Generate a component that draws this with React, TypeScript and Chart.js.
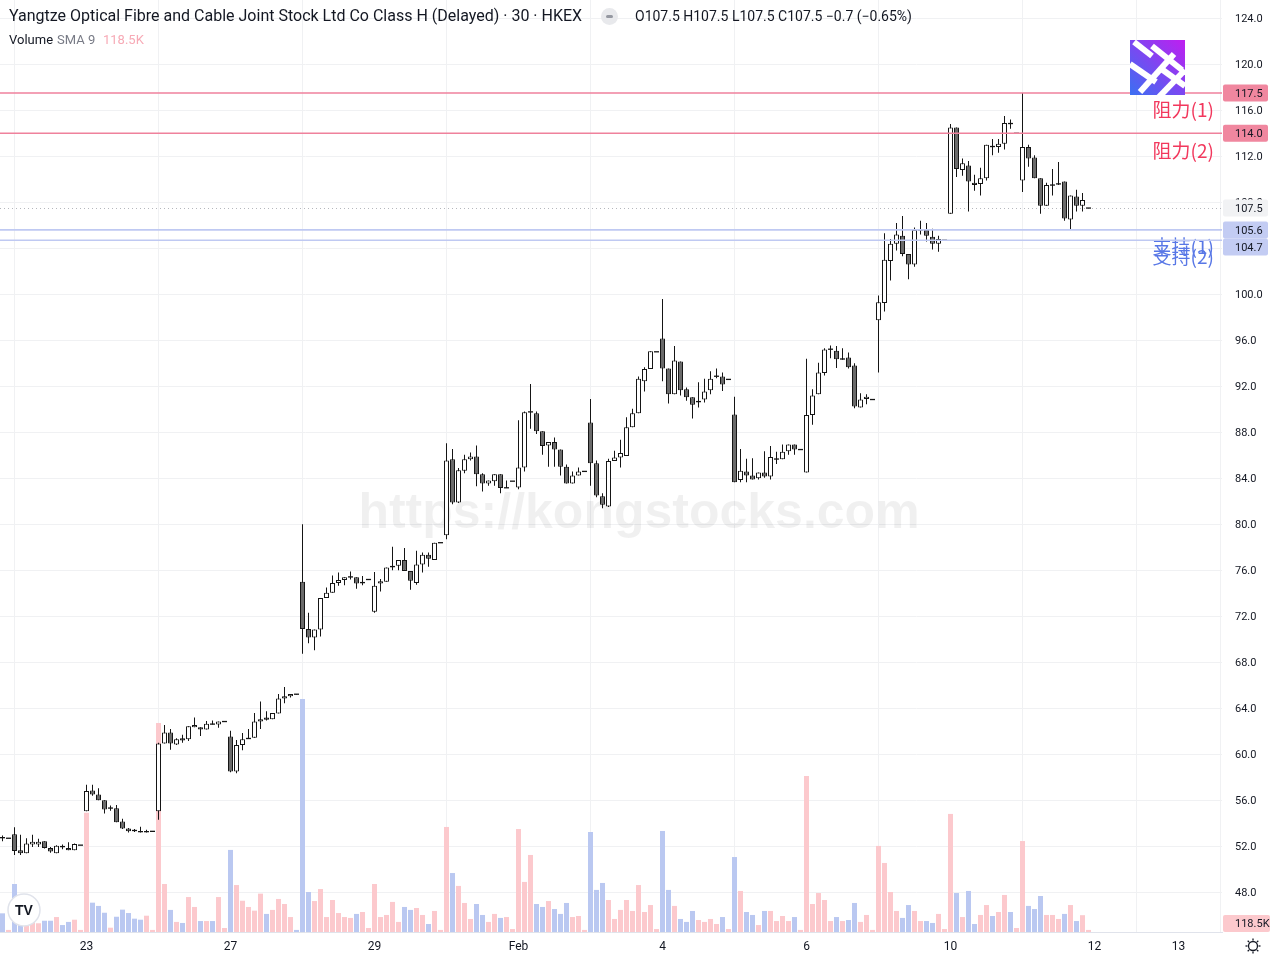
import React, { useEffect, useRef } from 'react';
import { Chart, registerables } from 'chart.js';

Chart.register(...registerables);

// ---------------- data ----------------
const TITLE = 'Yangtze Optical Fibre and Cable Joint Stock Ltd Co Class H (Delayed) · 30 · HKEX';
const WATERMARK = 'https://kongstocks.com';
const FIRST_BAR = -14; // bar index of first element (bar 0 = first bar of Jan 23)

const opens = [
  52.80, 52.70, 53.05, 51.65, 51.40, 52.15, 52.15, 52.45, 51.85, 51.40, 52.00, 51.85, 51.65, 52.10,
  55.05, 56.85, 56.50, 56.00, 55.25, 55.30, 54.15, 53.55, 53.40, 53.30, 53.25, 53.30,
  55.05, 60.95, 61.90, 60.85, 61.40, 61.30, 62.35, 62.35, 62.15, 62.65, 62.60, 62.85,
  61.55, 58.50, 60.80, 61.35, 61.45, 62.85, 63.20, 63.05, 63.55, 64.85, 65.05, 65.25,
  75.00, 70.90, 70.15, 70.85, 73.60, 74.05, 74.90, 75.15, 75.40, 75.40, 74.85, 75.20,
  72.40, 74.85, 75.00, 76.25, 76.40, 76.90, 75.95, 74.90, 76.50, 77.35, 76.90, 78.40,
  79.05, 85.65, 81.90, 84.65, 85.65, 85.90, 84.35, 83.55, 83.75, 84.35, 83.15, 83.75,
  83.20, 84.95, 89.75, 89.65, 88.10, 86.85, 87.15, 86.50, 85.00, 83.55, 84.25, 84.60,
  88.85, 85.30, 82.45, 81.55, 85.50, 85.80, 85.95, 88.45, 89.65, 92.45, 93.50, 95.00,
  96.15, 93.55, 91.30, 94.15, 91.75, 91.05, 90.60, 90.85, 91.65, 92.85, 92.85, 92.60,
  89.55, 83.85, 84.60, 84.25, 84.00, 84.50, 84.15, 85.65, 85.65, 86.35, 86.95, 86.50,
  84.50, 89.50, 91.30, 93.15, 95.20, 95.10, 94.35, 94.50, 93.80, 90.15, 90.90, 90.85,
  97.75, 99.25, 102.9, 104.4, 105.1, 103.5, 102.6, 105.6, 105.6, 105.0, 104.4, 104.7,
  107.0, 114.5, 110.8, 111.2, 109.7, 109.6, 110.1, 112.9, 112.8, 113.1, 114.9, 114.0,
  109.9, 112.8, 111.9, 110.1, 107.7, 109.5, 109.6, 109.8, 106.5, 108.5, 107.7, 107.5,
];
const highs = [
  52.95, 52.70, 53.65, 53.00, 52.70, 53.00, 52.65, 52.45, 51.95, 52.10, 52.15, 52.35, 52.25, 52.10,
  57.35, 57.35, 57.05, 56.00, 55.55, 55.60, 54.40, 53.60, 53.50, 53.70, 53.45, 53.30,
  61.00, 62.55, 62.20, 61.40, 61.70, 62.45, 63.20, 62.35, 62.90, 62.95, 62.85, 62.85,
  62.05, 61.25, 61.85, 62.20, 63.60, 64.60, 63.75, 63.60, 65.25, 65.85, 65.25, 65.25,
  80.00, 72.30, 70.85, 73.60, 74.50, 75.55, 75.80, 75.40, 75.90, 75.40, 75.50, 75.20,
  75.85, 75.25, 76.25, 78.05, 76.90, 77.95, 75.95, 77.70, 77.55, 77.55, 78.40, 78.40,
  87.05, 86.55, 84.90, 86.05, 86.25, 86.85, 84.45, 83.80, 84.35, 84.35, 83.80, 83.75,
  89.05, 89.80, 92.20, 89.80, 88.10, 87.15, 87.55, 86.50, 85.20, 84.60, 84.95, 84.60,
  90.90, 85.55, 82.70, 85.70, 86.40, 87.35, 89.30, 90.05, 92.85, 93.65, 95.05, 95.00,
  99.60, 93.55, 95.50, 94.15, 91.90, 91.05, 92.35, 92.65, 93.30, 93.55, 93.20, 92.60,
  91.10, 86.55, 85.70, 85.75, 84.50, 86.35, 86.80, 86.30, 86.95, 86.95, 86.95, 86.50,
  94.40, 91.75, 94.05, 95.30, 95.55, 95.50, 95.30, 94.95, 94.00, 91.40, 91.30, 90.85,
  99.90, 105.3, 104.8, 106.2, 106.8, 103.5, 105.8, 106.4, 106.2, 105.7, 105.1, 104.7,
  114.8, 114.5, 111.8, 111.6, 110.4, 111.0, 113.0, 113.5, 113.5, 115.5, 115.2, 114.0,
  117.5, 113.0, 112.1, 110.1, 109.7, 110.9, 111.5, 109.8, 108.6, 109.1, 108.8, 107.5,
];
const lows = [
  52.45, 52.70, 51.25, 51.25, 51.40, 51.95, 51.95, 51.80, 51.45, 51.40, 51.75, 51.65, 51.65, 52.10,
  55.05, 56.40, 56.00, 54.85, 55.10, 54.10, 53.50, 53.20, 53.25, 53.20, 53.20, 53.30,
  54.30, 60.95, 60.40, 60.80, 61.00, 61.15, 62.35, 61.60, 62.15, 62.60, 62.30, 62.85,
  58.45, 58.35, 60.35, 61.35, 61.45, 62.20, 62.95, 63.05, 63.55, 64.45, 64.95, 65.20,
  68.75, 69.65, 69.05, 70.25, 73.60, 74.05, 74.65, 74.70, 75.20, 74.40, 74.70, 75.20,
  72.30, 74.15, 75.00, 76.00, 76.00, 75.95, 74.30, 74.75, 75.80, 76.30, 76.90, 78.40,
  78.70, 81.75, 81.85, 84.45, 85.55, 83.30, 82.85, 83.35, 83.35, 82.70, 83.15, 83.75,
  83.05, 84.60, 88.30, 87.85, 86.05, 85.00, 85.00, 84.25, 83.55, 83.55, 84.25, 84.60,
  83.35, 82.35, 81.40, 81.50, 85.50, 84.95, 85.95, 88.45, 89.65, 91.55, 93.50, 95.00,
  92.45, 90.50, 91.30, 91.20, 90.75, 89.20, 90.15, 90.60, 91.30, 92.70, 91.60, 92.60,
  83.65, 83.65, 83.65, 83.90, 83.90, 84.05, 83.90, 85.25, 85.65, 86.05, 86.05, 86.50,
  84.50, 88.65, 91.30, 92.95, 94.45, 93.60, 94.30, 93.55, 90.10, 90.15, 90.45, 90.85,
  93.20, 98.50, 101.2, 103.8, 103.3, 101.3, 102.4, 105.2, 104.6, 103.9, 103.7, 104.7,
  107.0, 110.2, 110.3, 107.2, 109.0, 108.6, 109.9, 112.1, 112.3, 112.6, 114.4, 114.0,
  108.9, 111.1, 110.1, 107.0, 107.7, 108.6, 109.5, 106.4, 105.6, 107.2, 107.2, 107.5,
];
const closes = [
  52.70, 52.70, 51.60, 51.40, 52.25, 52.40, 52.40, 51.85, 51.55, 52.05, 51.95, 51.65, 52.20, 52.10,
  56.80, 56.50, 56.00, 55.20, 55.40, 54.10, 53.55, 53.30, 53.35, 53.25, 53.30, 53.30,
  60.95, 61.90, 60.95, 61.30, 61.20, 62.45, 62.55, 62.15, 62.65, 62.60, 62.85, 62.85,
  58.50, 60.80, 61.30, 61.40, 62.85, 63.05, 63.00, 63.60, 64.85, 65.05, 65.25, 65.20,
  70.90, 70.15, 70.85, 73.60, 74.05, 74.90, 75.15, 75.40, 75.45, 74.85, 75.00, 75.20,
  74.65, 75.05, 76.25, 76.40, 76.90, 75.95, 75.10, 76.50, 77.35, 77.00, 78.40, 78.40,
  85.55, 81.90, 84.70, 85.65, 85.90, 84.35, 83.55, 83.80, 84.35, 83.15, 83.20, 83.75,
  84.95, 89.75, 89.80, 88.10, 86.80, 87.15, 86.50, 85.00, 83.55, 84.25, 84.60, 84.60,
  85.30, 82.50, 81.70, 85.50, 85.80, 86.20, 88.45, 89.65, 92.65, 93.50, 95.05, 95.00,
  93.55, 91.30, 94.25, 91.65, 91.05, 90.40, 90.75, 91.55, 92.65, 92.90, 92.15, 92.60,
  83.65, 84.65, 84.25, 83.90, 84.50, 84.15, 85.85, 85.70, 86.30, 86.95, 86.50, 86.50,
  89.50, 91.20, 93.20, 95.20, 95.25, 94.35, 94.40, 93.65, 90.25, 90.85, 91.10, 90.85,
  99.30, 103.0, 104.4, 105.2, 103.5, 102.6, 105.6, 105.6, 105.1, 104.4, 104.8, 104.7,
  114.5, 110.9, 111.4, 109.8, 109.5, 110.1, 113.0, 112.8, 113.1, 114.9, 114.8, 114.0,
  112.8, 111.8, 110.1, 107.7, 109.5, 109.5, 109.6, 106.6, 108.6, 107.7, 108.2, 107.5,
];
// volume in thousands of shares
const volumes = [
  126, 14, 324, 68, 41, 68, 59, 76, 76, 101, 47, 68, 83, 14,
  805, 198, 176, 130, 29, 103, 151, 128, 90, 83, 110, 14,
  1411, 324, 149, 68, 61, 236, 169, 74, 74, 74, 236, 27,
  554, 317, 211, 169, 144, 259, 122, 149, 223, 189, 101, 14,
  1573, 270, 209, 290, 101, 216, 128, 101, 95, 122, 135, 27,
  324, 101, 115, 203, 68, 169, 149, 162, 115, 54, 142, 14,
  709, 398, 311, 196, 88, 189, 115, 68, 122, 95, 101, 20,
  695, 338, 520, 189, 169, 209, 155, 122, 196, 101, 108, 14,
  675, 284, 331, 216, 88, 149, 216, 142, 317, 135, 182, 20,
  682, 284, 176, 88, 68, 142, 81, 68, 88, 54, 101, 20,
  506, 277, 135, 115, 47, 142, 142, 74, 108, 74, 101, 14,
  1053, 189, 263, 216, 74, 101, 74, 81, 196, 68, 115, 14,
  581, 466, 270, 142, 95, 182, 142, 74, 74, 61, 122, 20,
  797, 263, 101, 277, 54, 115, 182, 108, 135, 250, 135, 27,
  614, 176, 155, 243, 115, 115, 88, 122, 182, 74, 113.5, 14,
];

const dayTickBars = [0, 24, 48, 72, 96, 120, 144, 168, 182];
const dayTickLabels = ['23', '27', '29', 'Feb', '4', '6', '10', '12', '13'];
const priceTicks = [48, 52, 56, 60, 64, 68, 72, 76, 80, 84, 88, 92, 96, 100, 104, 108, 112, 116, 120, 124];

const levelPrices = [117.5, 114.0, 105.6, 104.7];
const levelTexts = ['阻力(1)', '阻力(2)', '支持(1)', '支持(2)'];
const levelKinds = ['res', 'res', 'sup', 'sup'];
const VOL_SMA_LEN = 9;

// ---------------- layout / style ----------------
const PLOT_RIGHT = 1222;
const PLOT_BOTTOM = 932;
const BAR_PX = 6;
const FIRST_DAY_X = 86.5;
const X_MIN = -FIRST_DAY_X / BAR_PX;
const X_MAX = X_MIN + PLOT_RIGHT / BAR_PX;
const PX_PER_PRICE = 11.5;
const Y_MAX = 124 + 18.3 / PX_PER_PRICE;
const Y_MIN = 124 - (PLOT_BOTTOM - 18.3) / PX_PER_PRICE;
const VOL_PER_PX = 6.75;
const VOL_MAX = PLOT_BOTTOM * VOL_PER_PX;
const DOJI = 0.15;

const TEXT = '#131722';
const GRID = '#f0f1f3';
const CANDLE_LINE = '#151515';
const UP_BODY = '#ffffff';
const DOWN_BODY = '#6a6a6a';
const VOL_UP = '#fcc9cd';
const VOL_DOWN = '#bac8f1';
const RES_LINE = '#ef819c';
const RES_TEXT = '#f2385d';
const SUP_LINE = '#bfc9f2';
const SUP_TEXT = '#5877e6';
const FONT = 'Roboto, "Noto Sans", sans-serif';

const n = closes.length;
const lastClose = closes[n - 1];
const prevClose = closes[n - 2];
const change = lastClose - prevClose;
const changePct = (change / prevClose) * 100;
const volSMA = volumes.slice(n - VOL_SMA_LEN).reduce((a, b) => a + b, 0) / VOL_SMA_LEN;
const minus = (v: number, d: number) => (v < 0 ? '\u2212' : '') + Math.abs(v).toFixed(d);

function roundRect(ctx: CanvasRenderingContext2D, x: number, y: number, w: number, h: number, r: number) {
  ctx.beginPath();
  ctx.moveTo(x + r, y);
  ctx.lineTo(x + w - r, y);
  ctx.quadraticCurveTo(x + w, y, x + w, y + r);
  ctx.lineTo(x + w, y + h - r);
  ctx.quadraticCurveTo(x + w, y + h, x + w - r, y + h);
  ctx.lineTo(x + r, y + h);
  ctx.quadraticCurveTo(x, y + h, x, y + h - r);
  ctx.lineTo(x, y + r);
  ctx.quadraticCurveTo(x, y, x + r, y);
  ctx.closePath();
}

const overlayPlugin = {
  id: 'tvOverlay',
  beforeDatasetsDraw(chart: any) {
    const { ctx, chartArea: a, scales } = chart;
    ctx.save();
    ctx.font = 'bold 50px "Liberation Sans", Arial, sans-serif';
    ctx.fillStyle = 'rgba(0,0,0,0.06)';
    ctx.textAlign = 'center';
    ctx.textBaseline = 'middle';
    ctx.fillText(WATERMARK, 639, 514);
    // last price dotted line
    const yl = Math.round(scales.y.getPixelForValue(lastClose)) + 0.5;
    ctx.setLineDash([1, 3]);
    ctx.strokeStyle = 'rgba(120,123,134,0.55)';
    ctx.lineWidth = 1;
    ctx.beginPath();
    ctx.moveTo(a.left, yl);
    ctx.lineTo(a.right, yl);
    ctx.stroke();
    ctx.restore();
  },
  afterDatasetsDraw(chart: any) {
    const { ctx, chartArea: a, scales } = chart;
    ctx.save();
    levelPrices.forEach((p, k) => {
      const y = scales.y.getPixelForValue(p);
      const res = levelKinds[k] === 'res';
      ctx.strokeStyle = res ? RES_LINE : SUP_LINE;
      ctx.lineWidth = 1.6;
      ctx.beginPath();
      ctx.moveTo(a.left, y);
      ctx.lineTo(a.right, y);
      ctx.stroke();
      ctx.font = '19px "Noto Sans CJK TC", "Noto Sans CJK SC", sans-serif';
      ctx.fillStyle = res ? RES_TEXT : SUP_TEXT;
      ctx.textAlign = 'right';
      ctx.textBaseline = 'middle';
      ctx.fillText(levelTexts[k], 1214, y + 17);
    });
    ctx.restore();
  },
  afterDraw(chart: any) {
    const { ctx, chartArea: a, scales } = chart;
    ctx.save();
    // price axis labels
    const boxes: { y: number; text: string; fill: string }[] = [];
    levelPrices.forEach((p, k) => {
      boxes.push({ y: scales.y.getPixelForValue(p), text: p.toFixed(1), fill: levelKinds[k] === 'res' ? '#f0879f' : '#c3ccf3' });
    });
    boxes.push({ y: scales.y.getPixelForValue(lastClose), text: lastClose.toFixed(1), fill: '#f1f2f4' });
    boxes.sort((p, q) => p.y - q.y);
    const BH = 17;
    let prevBottom = -Infinity;
    boxes.forEach((b) => {
      let top = b.y - BH / 2;
      if (top < prevBottom) top = prevBottom;
      prevBottom = top + BH;
      ctx.fillStyle = b.fill;
      roundRect(ctx, a.right + 1, top, 45, BH, 2);
      ctx.fill();
      ctx.fillStyle = TEXT;
      ctx.font = '11px ' + FONT;
      ctx.textAlign = 'left';
      ctx.textBaseline = 'middle';
      ctx.fillText(b.text, a.right + 13, top + BH / 2 + 1);
    });
    // volume SMA label
    const vy = Math.max(scales.yv.getPixelForValue(volSMA), a.bottom - 8.5);
    ctx.fillStyle = VOL_UP;
    roundRect(ctx, a.right + 1, vy - 8.5, 47, 17, 2);
    ctx.fill();
    ctx.fillStyle = TEXT;
    ctx.font = '11px ' + FONT;
    ctx.textAlign = 'left';
    ctx.textBaseline = 'middle';
    ctx.fillText(volSMA.toFixed(1) + 'K', a.right + 13, vy + 1);

    // brand logo (top right)
    const lx = 1130, ly = 40, ls = 55;
    const g = ctx.createLinearGradient(lx + ls, ly, lx, ly + ls);
    g.addColorStop(0, '#c01ef0');
    g.addColorStop(1, '#3a70f2');
    ctx.fillStyle = g;
    ctx.fillRect(lx, ly, ls, ls);
    ctx.save();
    ctx.beginPath();
    ctx.rect(lx, ly, ls, ls);
    ctx.clip();
    ctx.strokeStyle = '#ffffff';
    ctx.lineWidth = 6;
    const seg = (x1: number, y1: number, x2: number, y2: number) => {
      ctx.beginPath();
      ctx.moveTo(lx + x1, ly + y1);
      ctx.lineTo(lx + x2, ly + y2);
      ctx.stroke();
    };
    seg(4, 2, 22, 16);
    seg(0, 24, 26, 42);
    seg(22, 6, 52, 30);
    seg(30, 28, 55, 46);
    seg(10, 52, 44, 14);
    seg(28, 58, 55, 30);
    ctx.restore();

    // TradingView badge (bottom left)
    ctx.beginPath();
    ctx.arc(24, 910, 16, 0, Math.PI * 2);
    ctx.fillStyle = '#ffffff';
    ctx.fill();
    ctx.strokeStyle = '#e0e3eb';
    ctx.lineWidth = 1.5;
    ctx.stroke();
    ctx.fillStyle = TEXT;
    ctx.font = 'bold 14px "Liberation Sans", Arial, sans-serif';
    ctx.textAlign = 'center';
    ctx.textBaseline = 'middle';
    ctx.fillText('TV', 24, 911);

    // settings icon (bottom right)
    const cx = 1253, cy = 946;
    ctx.strokeStyle = TEXT;
    ctx.lineWidth = 1.3;
    ctx.beginPath();
    ctx.arc(cx, cy, 4.5, 0, Math.PI * 2);
    ctx.stroke();
    for (let r = 0; r < 8; r++) {
      const ang = (r * Math.PI) / 4;
      ctx.beginPath();
      ctx.moveTo(cx + Math.cos(ang) * 5.5, cy + Math.sin(ang) * 5.5);
      ctx.lineTo(cx + Math.cos(ang) * 7.5, cy + Math.sin(ang) * 7.5);
      ctx.stroke();
    }
    ctx.restore();
  },
};

export default function App() {
  const ref = useRef<HTMLCanvasElement>(null);

  useEffect(() => {
    if (!ref.current) return;
    const xs = closes.map((_, k) => FIRST_BAR + k);
    const isDoji = (k: number) => Math.abs(opens[k] - closes[k]) < DOJI;

    const volData = xs.map((x, k) => ({ x, y: volumes[k] }));
    const volColors = xs.map((_, k) => (closes[k] >= opens[k] ? VOL_UP : VOL_DOWN));
    const wickData = xs.map((x, k) => ({ x, y: [lows[k], highs[k]] }));
    const bodyIdx = xs.map((_, k) => k).filter((k) => !isDoji(k));
    const bodyData = bodyIdx.map((k) => ({ x: xs[k], y: [Math.min(opens[k], closes[k]), Math.max(opens[k], closes[k])] }));
    const bodyColors = bodyIdx.map((k) => (closes[k] >= opens[k] ? UP_BODY : DOWN_BODY));
    const dojiIdx = xs.map((_, k) => k).filter((k) => isDoji(k));
    const dojiData = dojiIdx.map((k) => ({ x: xs[k], y: (opens[k] + closes[k]) / 2 }));

    const chart = new Chart(ref.current, {
      type: 'bar',
      data: {
        datasets: [
          {
            type: 'bar', label: 'Volume', data: volData as any, xAxisID: 'x', yAxisID: 'yv',
            backgroundColor: volColors, borderWidth: 0, grouped: false,
            categoryPercentage: 1, barPercentage: 5 / 6, order: 3,
          } as any,
          {
            type: 'bar', label: 'Wick', data: wickData as any, xAxisID: 'x', yAxisID: 'y',
            backgroundColor: CANDLE_LINE, borderWidth: 0, grouped: false,
            categoryPercentage: 1, barPercentage: 1 / 6, order: 2,
          } as any,
          {
            type: 'bar', label: 'Body', data: bodyData as any, xAxisID: 'x', yAxisID: 'y',
            backgroundColor: bodyColors, borderColor: CANDLE_LINE, borderWidth: 1, borderSkipped: false,
            grouped: false, categoryPercentage: 1, barPercentage: 5 / 6, order: 1,
          } as any,
          {
            type: 'scatter', label: 'Doji', data: dojiData as any, xAxisID: 'x', yAxisID: 'y',
            pointStyle: 'line', pointRadius: 2.5, pointBorderWidth: 1.3,
            pointBorderColor: CANDLE_LINE, pointBackgroundColor: CANDLE_LINE, order: 0,
          } as any,
        ],
      },
      options: {
        responsive: false,
        maintainAspectRatio: false,
        animation: false,
        events: [],
        layout: { padding: 0, autoPadding: false },
        plugins: { legend: { display: false }, tooltip: { enabled: false } },
        scales: {
          x: {
            type: 'linear', min: X_MIN, max: X_MAX, offset: false,
            grid: { color: GRID, drawTicks: false },
            border: { color: '#e0e3eb' },
            ticks: {
              autoSkip: false, maxRotation: 0, padding: 8, color: TEXT,
              font: { size: 12, family: FONT },
              callback: (v: any) => {
                const i = dayTickBars.indexOf(Number(v));
                return i >= 0 ? dayTickLabels[i] : '';
              },
            },
            afterBuildTicks: (s: any) => { s.ticks = dayTickBars.map((value) => ({ value })); },
            afterFit: (s: any) => { s.height = 28; s.paddingLeft = 0; s.paddingRight = 0; },
          },
          y: {
            type: 'linear', position: 'right', min: Y_MIN, max: Y_MAX,
            grid: { color: GRID, drawTicks: false },
            border: { display: false },
            ticks: {
              padding: 13, labelOffset: 1, color: TEXT, font: { size: 11, family: FONT },
              callback: (v: any) => Number(v).toFixed(1),
            },
            afterBuildTicks: (s: any) => { s.ticks = priceTicks.map((value) => ({ value })); },
            afterFit: (s: any) => { s.width = 58; s.paddingTop = 0; s.paddingBottom = 0; },
          },
          yv: {
            type: 'linear', position: 'right', display: false, min: 0, max: VOL_MAX,
          },
        },
      } as any,
      plugins: [overlayPlugin],
    });
    return () => chart.destroy();
  }, []);

  const hdr: React.CSSProperties = { position: 'absolute', whiteSpace: 'nowrap', color: TEXT, fontFamily: FONT };
  return (
    <div style={{ position: 'fixed', left: 0, top: 0, width: 1280, height: 960, background: '#ffffff', overflow: 'hidden' }}>
      <canvas ref={ref} width={1280} height={960} style={{ position: 'absolute', left: 0, top: 0, width: 1280, height: 960 }} />
      <div style={{ ...hdr, left: 9, top: 6, fontSize: 16, lineHeight: '20px' }}>{TITLE}</div>
      <div style={{ position: 'absolute', left: 601, top: 8, width: 17, height: 17, borderRadius: '50%', background: '#e8e9ec' }}>
        <div style={{ position: 'absolute', left: 5, top: 7, width: 7, height: 3, borderRadius: 2, background: '#9598a1' }} />
      </div>
      <div style={{ ...hdr, left: 635, top: 7, fontSize: 14, lineHeight: '18px' }}>
        {`O${opens[n - 1].toFixed(1)} H${highs[n - 1].toFixed(1)} L${lows[n - 1].toFixed(1)} C${lastClose.toFixed(1)} ${minus(change, 1)} (${minus(changePct, 2)}%)`}
      </div>
      <div style={{ ...hdr, left: 9, top: 32, fontSize: 13, lineHeight: '16px' }}>Volume</div>
      <div style={{ ...hdr, left: 57, top: 32, fontSize: 13, lineHeight: '16px', color: '#787b86' }}>SMA 9</div>
      <div style={{ ...hdr, left: 103, top: 32, fontSize: 13, lineHeight: '16px', color: '#f7aab6' }}>{volSMA.toFixed(1) + 'K'}</div>
    </div>
  );
}
